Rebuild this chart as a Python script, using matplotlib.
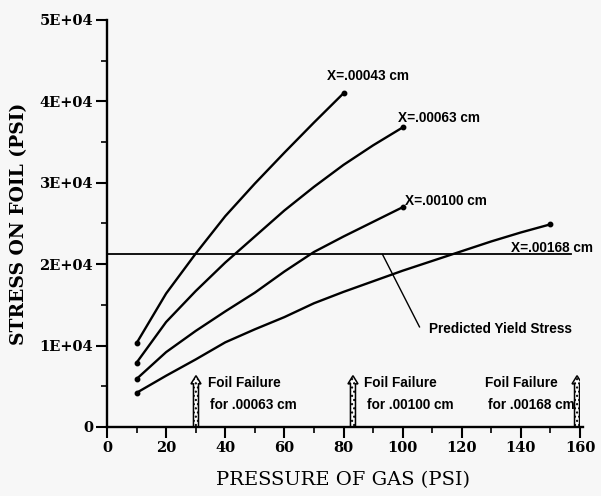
import numpy as np
import matplotlib.pyplot as plt
from matplotlib.patches import FancyArrow
from matplotlib.ticker import FuncFormatter, MultipleLocator

# pressure of gas (psi) at which stress was computed
pressure = [10, 20, 30, 40, 50, 60, 70, 80, 90, 100, 110, 120, 130, 140, 150]

# stress on foil (psi) for each foil thickness
stress_00043 = [10300, 16400, 21300, 25900, 29900, 33700, 37400, 41000]
stress_00063 = [7900, 12900, 16700, 20200, 23400, 26600, 29500, 32200, 34600, 36800]
stress_00100 = [5900, 9200, 11800, 14200, 16500, 19100, 21500, 23400, 25200, 27000]
stress_00168 = [4200, 6300, 8300, 10400, 12000, 13500, 15200, 16600, 17900, 19200,
                20400, 21600, 22800, 23900, 24900]

curve_labels = ["X=.00043 cm", "X=.00063 cm", "X=.00100 cm", "X=.00168 cm"]
label_pos = [(74.3, 43100), (98.3, 37900), (100.7, 27800), (136.8, 22000)]

yield_stress = 21200
yield_end = 157

# pressure at foil failure
failure_p = [30.1, 83.2, 159.0]
failure_names = [".00063 cm", ".00100 cm", ".00168 cm"]
failure_text_x = [34, 86.8, 128]

bg = "#f7f7f7"
fig = plt.figure(figsize=(6.01, 4.96), dpi=100, facecolor=bg)
ax = fig.add_axes([107/601, 69/496, 473/601, 407/496], facecolor=bg)

series = [stress_00043, stress_00063, stress_00100, stress_00168]
for s in series:
    x = pressure[:len(s)]
    ax.plot(x, s, color="black", lw=1.7, solid_capstyle="round", solid_joinstyle="round")
    ax.plot([x[0], x[-1]], [s[0], s[-1]], "o", color="black", ms=3.2)

txt = dict(fontsize=9.8, fontweight="bold", family="Liberation Sans", va="center", ha="left")
for lab, (lx, ly) in zip(curve_labels, label_pos):
    ax.text(lx, ly, lab, **txt)

# predicted yield stress line
ax.plot([0, yield_end], [yield_stress, yield_stress], color="black", lw=1.3)
ax.plot([93.2, 105.7], [yield_stress, 12300], color="black", lw=1.0)
ax.text(109, 12100, "Predicted Yield Stress", **txt)

# foil failure arrows
for fp, nm, tx in zip(failure_p, failure_names, failure_text_x):
    arr = FancyArrow(fp, 0, 0, 6300, width=1.7, head_width=3.4, head_length=1000,
                     length_includes_head=True, facecolor="white", edgecolor="black",
                     lw=1.1, hatch="....")
    ax.add_patch(arr)
    ax.text(tx, 5400, "Foil Failure", **txt)
    ax.text(tx + 1, 2700, "for " + nm, **txt)

ax.set_xlim(0, 160)
ax.set_ylim(0, 50000)
ax.spines["top"].set_visible(False)
ax.spines["right"].set_visible(False)
ax.spines["left"].set_linewidth(1.7)
ax.spines["bottom"].set_linewidth(1.7)
ax.spines["bottom"].set_bounds(0, 161)

ax.xaxis.set_major_locator(MultipleLocator(20))
ax.xaxis.set_minor_locator(MultipleLocator(10))
ax.yaxis.set_major_locator(MultipleLocator(10000))
ax.yaxis.set_minor_locator(MultipleLocator(5000))


def sci(v, pos):
    if v == 0:
        return "0"
    return "%dE+04" % round(v / 10000)


ax.yaxis.set_major_formatter(FuncFormatter(sci))
ax.tick_params(which="major", length=8, width=1.5, direction="out", pad=2)
ax.tick_params(which="minor", length=4, width=1.2, direction="out")
for lbl in ax.get_xticklabels() + ax.get_yticklabels():
    lbl.set_family("DejaVu Serif")
    lbl.set_fontweight("bold")
    lbl.set_fontsize(10.5)

ax.set_xlabel("PRESSURE OF GAS (PSI)", family="DejaVu Serif", fontsize=14, labelpad=12)
ax.set_ylabel("STRESS ON FOIL (PSI)", family="DejaVu Serif", fontweight="bold",
              fontsize=13.5, labelpad=8)

fig.savefig("out.png", dpi=100, facecolor=bg)
